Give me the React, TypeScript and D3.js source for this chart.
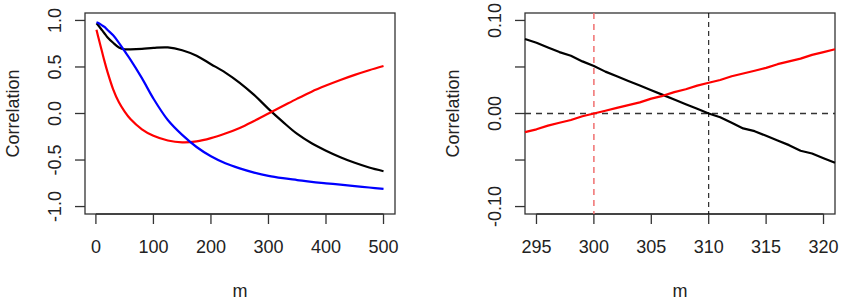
import React, { useRef, useEffect } from "react";
import * as d3 from "d3";

// left panel: sampled m values and three correlation curves
const mLeft = [1, 5, 10, 15, 20, 30, 40, 50, 60, 80, 100, 125, 150, 175, 200, 225, 250, 275, 300, 325, 350, 375, 400, 425, 450, 475, 500];
const blackLeft = [0.97, 0.94, 0.9, 0.86, 0.82, 0.76, 0.71, 0.69, 0.69, 0.695, 0.705, 0.71, 0.68, 0.62, 0.53, 0.44, 0.33, 0.2, 0.05, -0.09, -0.22, -0.32, -0.4, -0.47, -0.53, -0.58, -0.62];
const redLeft = [0.9, 0.8, 0.68, 0.56, 0.45, 0.26, 0.12, 0.02, -0.06, -0.17, -0.24, -0.29, -0.31, -0.3, -0.265, -0.215, -0.155, -0.08, 0.0, 0.08, 0.16, 0.235, 0.3, 0.36, 0.415, 0.465, 0.51];
const blueLeft = [0.98, 0.97, 0.95, 0.93, 0.9, 0.84, 0.76, 0.67, 0.58, 0.38, 0.16, -0.07, -0.23, -0.36, -0.46, -0.535, -0.59, -0.635, -0.67, -0.695, -0.715, -0.735, -0.75, -0.765, -0.78, -0.795, -0.81];

// right panel: zoom around the zero crossings
const mRight = [294, 295, 296, 297, 298, 299, 300, 301, 302, 303, 304, 305, 306, 307, 308, 309, 310, 311, 312, 313, 314, 315, 316, 317, 318, 319, 320, 321];
const blackRight = [0.08, 0.076, 0.071, 0.066, 0.062, 0.056, 0.051, 0.045, 0.04, 0.035, 0.03, 0.025, 0.02, 0.015, 0.01, 0.005, 0.0, -0.004, -0.01, -0.016, -0.019, -0.024, -0.029, -0.034, -0.04, -0.043, -0.048, -0.053];
const redRight = [-0.02, -0.017, -0.013, -0.01, -0.007, -0.003, 0.0, 0.003, 0.006, 0.009, 0.012, 0.016, 0.019, 0.023, 0.026, 0.03, 0.033, 0.036, 0.04, 0.043, 0.046, 0.049, 0.053, 0.056, 0.059, 0.063, 0.066, 0.069];

const xTicksLeft = [0, 100, 200, 300, 400, 500];
const yTicksLeft = [-1, -0.5, 0, 0.5, 1];
const yLabelsLeft = ["-1.0", "-0.5", "0.0", "0.5", "1.0"];
const xTicksRight = [295, 300, 305, 310, 315, 320];
const yTicksRight = [-0.1, -0.05, 0, 0.05, 0.1];
const yLabelsRight = ["-0.10", "", "0.00", "", "0.10"];

const FONT = "'Liberation Sans', Arial, sans-serif";
const TXT = "#222";

const App = () => {
  const svgRef = useRef();

  useEffect(() => {
    const svg = d3.select(svgRef.current);
    svg.selectAll("*").remove();

    const top = 13;
    const bottom = 214;

    const drawPanel = (left, right, x, y, xTicks, yTicks, yLabels) => {
      const g = svg.append("g");

      // x axis
      g.append("line")
        .attr("x1", x(xTicks[0])).attr("x2", x(xTicks[xTicks.length - 1]))
        .attr("y1", bottom).attr("y2", bottom)
        .attr("stroke", "#333").attr("stroke-width", 1.3);
      xTicks.forEach((t) => {
        g.append("line")
          .attr("x1", x(t)).attr("x2", x(t))
          .attr("y1", bottom).attr("y2", bottom + 10)
          .attr("stroke", "#333").attr("stroke-width", 1.3);
        g.append("text")
          .attr("x", x(t)).attr("y", 252.5)
          .attr("text-anchor", "middle")
          .attr("font-family", FONT).attr("font-size", 18).attr("fill", TXT)
          .text(t);
      });

      // y axis
      yTicks.forEach((t, i) => {
        g.append("line")
          .attr("x1", left - 10).attr("x2", left)
          .attr("y1", y(t)).attr("y2", y(t))
          .attr("stroke", "#333").attr("stroke-width", 1.3);
        if (yLabels[i]) {
          g.append("text")
            .attr("x", left - 24).attr("y", y(t))
            .attr("transform", `rotate(-90,${left - 24},${y(t)})`)
            .attr("text-anchor", "middle")
            .attr("font-family", FONT).attr("font-size", 18).attr("fill", TXT)
            .text(yLabels[i]);
        }
      });

      // axis titles
      g.append("text")
        .attr("x", (left + right) / 2).attr("y", 297)
        .attr("text-anchor", "middle")
        .attr("font-family", FONT).attr("font-size", 18).attr("fill", TXT)
        .text("m");
      const cy = (top + bottom) / 2;
      g.append("text")
        .attr("x", left - 66).attr("y", cy)
        .attr("transform", `rotate(-90,${left - 66},${cy})`)
        .attr("text-anchor", "middle")
        .attr("font-family", FONT).attr("font-size", 18).attr("fill", TXT)
        .text("Correlation");

      // box
      g.append("rect")
        .attr("x", left).attr("y", top)
        .attr("width", right - left).attr("height", bottom - top)
        .attr("fill", "none").attr("stroke", "#333").attr("stroke-width", 1.3);

      return g;
    };

    const addLine = (g, xs, ys, x, y, color, curve) => {
      const line = d3.line()
        .x((d) => x(d[0]))
        .y((d) => y(d[1]))
        .curve(curve);
      g.append("path")
        .datum(xs.map((v, i) => [v, ys[i]]))
        .attr("d", line)
        .attr("fill", "none")
        .attr("stroke", color)
        .attr("stroke-width", 2.2)
        .attr("stroke-linejoin", "round");
    };

    // left panel
    const xL = d3.scaleLinear().domain([1 - 19.96, 500 + 19.96]).range([85, 395]);
    const yL = d3.scaleLinear().domain([-1.08, 1.08]).range([bottom, top]);
    const gL = drawPanel(85, 395, xL, yL, xTicksLeft, yTicksLeft, yLabelsLeft);
    addLine(gL, mLeft, blackLeft, xL, yL, "#000", d3.curveCatmullRom);
    addLine(gL, mLeft, redLeft, xL, yL, "#ff0000", d3.curveCatmullRom);
    addLine(gL, mLeft, blueLeft, xL, yL, "#0000ff", d3.curveCatmullRom);

    // right panel
    const xR = d3.scaleLinear().domain([294, 321]).range([525, 835]);
    const yR = d3.scaleLinear().domain([-0.108, 0.108]).range([bottom, top]);
    const gR = drawPanel(525, 835, xR, yR, xTicksRight, yTicksRight, yLabelsRight);

    // reference lines
    gR.append("line")
      .attr("x1", 525).attr("x2", 835)
      .attr("y1", yR(0)).attr("y2", yR(0))
      .attr("stroke", "#333").attr("stroke-width", 1.3)
      .attr("stroke-dasharray", "6,5");
    gR.append("line")
      .attr("x1", xR(310)).attr("x2", xR(310))
      .attr("y1", top).attr("y2", bottom)
      .attr("stroke", "#000").attr("stroke-width", 1)
      .attr("stroke-dasharray", "5,4");
    gR.append("line")
      .attr("x1", xR(300)).attr("x2", xR(300))
      .attr("y1", top).attr("y2", bottom)
      .attr("stroke", "#f07070").attr("stroke-width", 1.5)
      .attr("stroke-dasharray", "6,5");

    addLine(gR, mRight, blackRight, xR, yR, "#000", d3.curveLinear);
    addLine(gR, mRight, redRight, xR, yR, "#ff0000", d3.curveLinear);
  }, []);

  return (
    <svg
      ref={svgRef}
      width={848}
      height={306}
      style={{ position: "absolute", left: 0, top: 0, background: "#fff" }}
    ></svg>
  );
};

export default App;
